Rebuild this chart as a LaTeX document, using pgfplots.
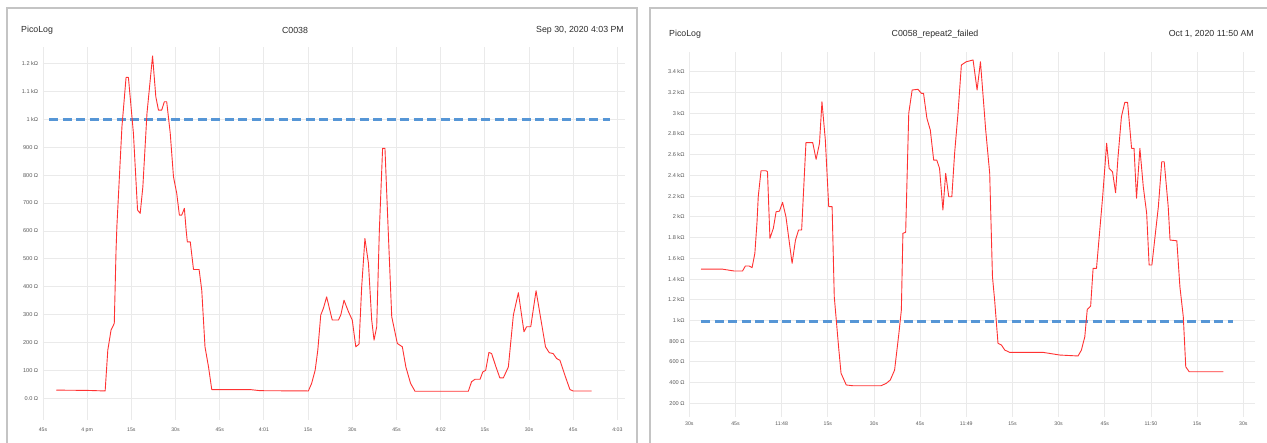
\documentclass[border=0pt]{standalone}
\usepackage{pgfplots}
\pgfplotsset{compat=1.18}
\usepackage{pgfplotstable}
\usepackage{fontspec}
\setmainfont{Liberation Sans}
\definecolor{gridc}{RGB}{234,234,234}
\definecolor{framec}{RGB}{196,196,196}
\definecolor{redl}{RGB}{255,50,50}
\definecolor{bluel}{RGB}{86,150,214}
\definecolor{txt}{RGB}{45,45,45}
\definecolor{tickc}{RGB}{90,90,90}

\pgfplotstableread{
t v
-10.5 30
-0.1 29
6.1 27
7.0 173
8.1 245
9.2 269
9.8 531
10.1 620
11.8 973
13.2 1150
14.0 1150
15.7 950
17.1 675
18.0 663
18.9 758
20.3 1021
22.2 1227
23.3 1081
24.2 1033
25.3 1033
26.2 1063
27.0 1063
28.2 950
29.3 794
30.4 735
31.3 657
32.1 657
33.0 681
33.6 603
34.0 561
35.0 561
36.1 462
38.0 462
38.9 388
40.0 185
41.2 113
42.3 32
55.3 32
58.7 28
75.1 27
76.2 54
77.4 101
78.3 173
79.3 299
80.2 323
81.3 364
83.2 281
85.3 281
86.1 299
87.2 352
88.7 311
90.0 281
91.2 185
92.3 195
93.2 400
94.3 573
95.5 484
96.6 281
97.4 209
98.3 257
99.2 603
100.3 896
101.1 896
102.2 603
103.4 293
105.3 197
107.0 185
108.2 113
109.8 54
111.3 26
129.4 26
130.5 60
131.7 69
133.4 69
134.3 95
135.3 101
136.4 165
137.3 161
138.8 113
140.1 74
141.3 74
143.0 113
144.7 299
146.4 379
148.3 239
149.2 257
150.6 257
152.4 386
153.7 305
155.6 185
156.9 164
158.2 161
159.4 143
160.5 137
162.4 77
163.9 32
165.0 27
171.3 27
}\leftdata

\pgfplotstableread{
t v
-26.2 1496
-19.2 1495
-15.4 1477
-12.7 1477
-11.8 1525
-10.5 1525
-9.6 1510
-8.7 1648
-8.0 1950
-7.6 2194
-6.7 2445
-5.1 2445
-4.6 2436
-3.8 1793
-2.7 1889
-1.8 2049
-0.7 2055
0.3 2140
1.4 2001
3.4 1551
4.5 1776
5.5 1873
6.5 1873
7.9 2716
10.1 2716
11.2 2555
12.3 2710
13.1 3111
14.2 2741
15.3 2098
16.4 2098
17.1 1229
18.5 746
19.3 490
21.0 377
23.1 370
32.3 370
34.0 393
35.3 425
36.7 521
38.1 876
38.9 1101
39.4 1841
40.3 1851
41.3 3000
42.4 3224
44.3 3231
45.4 3192
46.1 3192
47.2 2951
48.3 2838
49.4 2548
50.4 2548
51.3 2468
52.4 2066
53.3 2420
54.3 2194
55.3 2194
56.2 2613
57.3 3000
58.4 3466
60.0 3497
62.2 3514
63.5 3224
64.6 3497
66.3 2838
67.6 2420
68.5 1422
69.2 1197
70.3 779
71.4 763
72.5 714
74.1 692
84.9 692
90.4 666
96.3 657
97.4 714
98.5 843
99.3 1107
100.4 1139
101.2 1503
102.3 1503
104.3 2194
105.6 2710
106.4 2468
107.5 2436
108.5 2233
109.3 2580
110.4 2966
111.5 3105
112.4 3105
113.7 2661
114.5 2661
115.3 2179
116.4 2661
117.5 2291
118.6 2034
119.4 1535
120.3 1535
122.4 2098
123.5 2532
124.3 2532
125.6 2098
126.2 1776
128.4 1769
129.4 1326
130.5 1036
131.3 553
132.4 505
133.8 505
143.5 505
}\rightdata

\pgfplotsset{picostyle/.style={
  scale only axis,
  axis line style={draw=none},
  grid=major,
  major grid style={gridc, line width=0.9pt},
  major tick length=0pt,
  xticklabel style={font=\fontsize{5.2}{6}\selectfont, text=tickc},
  yticklabel style={font=\fontsize{5.6}{6}\selectfont, text=tickc, xshift=-1.3pt},
}}

\begin{document}
\begin{tikzpicture}
\path[use as bounding box] (0,0) rectangle (1267pt,443pt);
\fill[white] (0,0) rectangle (1267pt,443pt);
% panel frames
\draw[framec, line width=2pt] (7pt,0pt) -- (7pt,435pt) -- (637pt,435pt) -- (637pt,0pt);
\draw[framec, line width=2pt] (650pt,0pt) -- (650pt,435pt) -- (1268pt,435pt);

% titles
\begin{scope}[every node/.style={font=\fontsize{8.8}{10}\selectfont, text=txt, inner sep=0pt}]
\node[anchor=west] at (21pt,413pt) {PicoLog};
\node at (295pt,413pt) {C0038};
\node[anchor=east] at (624pt,413pt) {Sep 30, 2020 4:03 PM};
\node[anchor=west] at (669pt,408.5pt) {PicoLog};
\node at (935pt,408.5pt) {C0058\_repeat2\_failed};
\node[anchor=east] at (1254pt,408.5pt) {Oct 1, 2020 11:50 AM};
\end{scope}

\begin{axis}[picostyle,
  at={(43pt,23pt)}, anchor=south west,
  width=582pt, height=373pt,
  xmin=-15, xmax=182.6, ymin=-77, ymax=1259,
  xtick={-15,0,15,30,45,60,75,90,105,120,135,150,165,180},
  xticklabels={45s,4 pm,15s,30s,45s,4:01,15s,30s,45s,4:02,15s,30s,45s,4:03},
  ytick={0,100,200,300,400,500,600,700,800,900,1000,1100,1200},
  yticklabels={0.0 Ω,100 Ω,200 Ω,300 Ω,400 Ω,500 Ω,600 Ω,700 Ω,800 Ω,900 Ω,1 kΩ,1.1 kΩ,1.2 kΩ},
  xticklabel style={yshift=-4.5pt},
]
\addplot[bluel, line width=2.5pt, dash pattern=on 9pt off 4.5pt] coordinates {(-12.9,1000) (177.5,1000)};
\addplot[redl, line width=0.9pt, line join=round] table[x=t,y=v] {\leftdata};
\end{axis}

\begin{axis}[picostyle,
  at={(689.3pt,26.3pt)}, anchor=south west,
  width=565.7pt, height=365pt,
  xmin=-30, xmax=153.8, ymin=71, ymax=3594,
  xtick={-30,-15,0,15,30,45,60,75,90,105,120,135,150},
  xticklabels={30s,45s,11:48,15s,30s,45s,11:49,15s,30s,45s,11:50,15s,30s},
  ytick={200,400,600,800,1000,1200,1400,1600,1800,2000,2200,2400,2600,2800,3000,3200,3400},
  yticklabels={200 Ω,400 Ω,600 Ω,800 Ω,1 kΩ,1.2 kΩ,1.4 kΩ,1.6 kΩ,1.8 kΩ,2 kΩ,2.2 kΩ,2.4 kΩ,2.6 kΩ,2.8 kΩ,3 kΩ,3.2 kΩ,3.4 kΩ},
  xticklabel style={yshift=-1.5pt},
]
\addplot[bluel, line width=2.5pt, dash pattern=on 9pt off 4.5pt] coordinates {(-26.2,990) (146.8,990)};
\addplot[redl, line width=0.9pt, line join=round] table[x=t,y=v] {\rightdata};
\end{axis}
\end{tikzpicture}
\end{document}
